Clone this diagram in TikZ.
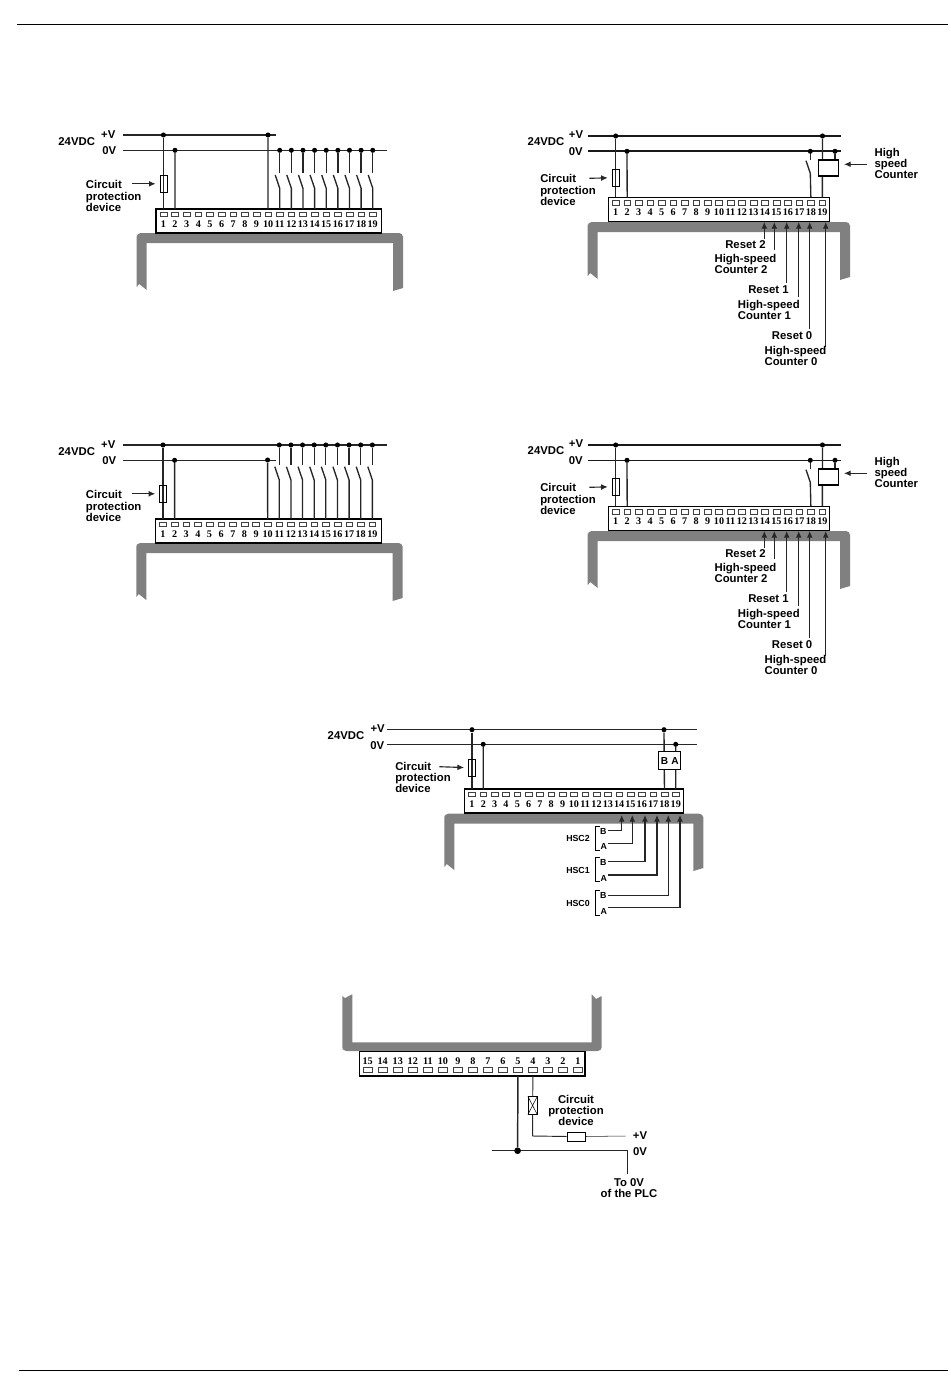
\documentclass[tikz,border=0pt]{standalone}
\usepackage{fontspec}
\setmainfont{Liberation Sans}
\newfontfamily\numfont{Liberation Serif}
\usepackage{tikz}
\usetikzlibrary{arrows.meta}

\tikzset{
    wire/.style={line width=1pt, black!85},
    arrowwire/.style={line width=0.85pt, black!85, -{Latex[length=5pt,width=4.4pt]}},
    fusearrow/.style={arrowwire, shorten >=3pt},
    junction/.style={circle, fill=black, inner sep=0pt, minimum size=3.8pt},
    term/.style={draw=black!75, line width=0.35pt, inner sep=0pt, minimum width=5pt, minimum height=3.4pt},
    termnum/.style={inner sep=0pt, text height=5pt, text depth=0pt, font=\numfont\bfseries\fontsize{7.6}{8}\selectfont},
    lbl/.style={inner sep=0pt, align=center, font=\bfseries\fontsize{8.5}{8.3}\selectfont},
    lblw/.style={lbl, anchor=west, align=left},
    small/.style={inner sep=0pt, font=\bfseries\fontsize{6.6}{7}\selectfont},
    fuse/.style={draw=black, line width=0.5pt, inner sep=0pt, minimum width=5.4pt, minimum height=13.2pt},
    ctbox/.style={draw=black, fill=white, line width=0.8pt, inner sep=0pt},
    housing/.style={fill=black!50, draw=none},
    stripframe/.style={draw=black, fill=white, line width=0.8pt}
}

% terminal strip: prefix, left, right, top, pitch, x of terminal 1
\newcommand{\plcstrip}[6]{
    \draw[stripframe] (#2,#4) rectangle (#3,#4+24);
    \foreach \i in {1,...,19} {
        \pgfmathsetmacro\tx{#6+(\i-1)*#5}
        \coordinate (#1w\i) at (\tx,#4);
        \node[term] (#1t\i) at (\tx,#4+5.3) {};
        \node[termnum] (#1n\i) at (\tx,#4+15) {\i};
    }
}

% grey housing: left, right, top, bottom
\newcommand{\plcbody}[4]{
    \fill[housing] (#1,#4-3) -- (#1+2.5,#4-6) -- (#1+10,#4) -- (#1+10,#3+10)
        -- (#2-10,#3+10) -- (#2-10,#4+1) -- (#2,#4-2) -- (#2,#3+3)
        [rounded corners=3] -- (#2,#3) -- (#1,#3) -- (#1,#3+5) [sharp corners] -- cycle;
}

\begin{document}
\begin{tikzpicture}[x=0.75pt, y=-0.75pt]
    \useasboundingbox (0,0) rectangle (950,1391);

    % ---------- page rules ----------
    \coordinate (ruleTl) at (17,24);
    \coordinate (ruleTr) at (948,24);
    \coordinate (ruleBl) at (19,1370.5);
    \coordinate (ruleBr) at (948,1370.5);
    \draw[line width=0.7pt] (ruleTl) -- (ruleTr);
    \draw[line width=0.7pt] (ruleBl) -- (ruleBr);

    % ---------- left panels: switches on terminals 11 to 19 ----------
    % name / dx / dy / y of switch rail / y of short rail / its width / switch top
    \foreach \pn/\dx/\dy/\ry/\ty/\lw/\sy in {A/0/0/150.3/135/1/173.3, C/-0.4/310/445/460/0.6/465} {
        \plcbody{136.7+\dx}{403+\dx}{233+\dy}{290+\dy}
        \plcstrip{\pn}{156+\dx}{381.7+\dx}{209+\dy}{11.63}{163.4+\dx}

        \coordinate (\pn rl) at (122.7,\ry);
        \coordinate (\pn rr) at (387,\ry);
        \coordinate (\pn sl) at (122.7,\ty);
        \coordinate (\pn sr) at (276,\ty);
        \draw[wire] (\pn rl) -- (\pn rr);
        \draw[line width=\lw pt, black!85] (\pn sl) -- (\pn sr);

        \node[junction] (\pn d1) at (163.4+\dx,135+\dy) {};
        \node[junction] (\pn d2) at (175+\dx,150.3+\dy) {};
        \node[junction] (\pn d10) at (268+\dx,\ty) {};
        \draw[wire] (\pn d1) -- (\pn w1);
        \draw[wire] (\pn d2) -- (\pn w2);
        \draw[wire] (\pn d10) -- (\pn w10);

        \foreach \i in {11,...,19} {
            \pgfmathsetmacro\sx{163.4+\dx+(\i-1)*11.63}
            \node[junction] (\pn d\i) at (\sx,\ry) {};
            \coordinate (\pn c\i) at (\sx,\sy);
            \coordinate (\pn h\i) at (\sx-4.5,\sy+1.7);
            \coordinate (\pn b\i) at (\sx,\sy+15);
            \draw[wire] (\pn d\i) -- (\pn c\i);
            \draw[wire] (\pn h\i) -- (\pn b\i) -- (\pn w\i);
        }

        \node[fuse] (\pn fuse) at (163.6+\dx,183.8+\dy) {};
        \coordinate (\pn fa) at (132+\dx,183.8+\dy);
        \draw[fusearrow] (\pn fa) -- (\pn fuse);

        \node[lbl] (\pn vdc) at (76.7,141.7+\dy) {24VDC};
        \node[lbl] (\pn pv) at (108.3,135+\dy) {+V};
        \node[lbl] (\pn zv) at (109.3,150.3+\dy) {0V};
        \node[lblw] (\pn cpd) at (85.7,196+\dy) {Circuit\\protection\\device};
    }

    % ---------- right panels: high-speed counter ----------
    \foreach \pn/\dy in {B/0, D/309} {
        \plcbody{587.7}{850}{222+\dy}{279+\dy}
        \plcstrip{\pn}{608.3}{829.3}{197.3+\dy}{11.48}{615.7}

        \coordinate (\pn pl) at (588.3,136+\dy);
        \coordinate (\pn pr) at (841,136+\dy);
        \coordinate (\pn zl) at (588.3,151.3+\dy);
        \coordinate (\pn zr) at (841,151.3+\dy);
        \draw[line width=1.2pt, black!90] (\pn pl) -- (\pn pr);
        \draw[line width=1.2pt, black!90] (\pn zl) -- (\pn zr);

        \node[junction] (\pn d1) at (615.7,136+\dy) {};
        \node[junction] (\pn d2) at (627,151.3+\dy) {};
        \node[junction] (\pn d18) at (810.3,151.3+\dy) {};
        \node[junction] (\pn d19) at (822.5,136+\dy) {};
        \node[junction] (\pn da) at (835,151.3+\dy) {};
        \draw[wire] (\pn d1) -- (\pn w1);
        \draw[wire] (\pn d2) -- (\pn w2);

        % switch on 18
        \coordinate (\pn c18) at (810.3,160+\dy);
        \coordinate (\pn h18) at (806,160.7+\dy);
        \coordinate (\pn b18) at (810.3,173.3+\dy);
        \draw[wire] (\pn d18) -- (\pn c18);
        \draw[wire] (\pn h18) -- (\pn b18) -- (\pn w18);

        % counter box
        \draw[wire] (\pn d19) -- (\pn w19);
        \draw[wire] (\pn da) -- (835,162+\dy);
        \node[ctbox, minimum width=14.7pt, minimum height=12pt] (\pn box) at (828.5,168+\dy) {};
        \coordinate (\pn ba) at (866.7,164.3+\dy);
        \draw[arrowwire] (\pn ba) -- (844,164.3+\dy);
        \node[lblw] (\pn hsc) at (874.3,163.7+\dy) {High\\speed\\Counter};

        \node[fuse] (\pn fuse) at (615.7,177.7+\dy) {};
        \coordinate (\pn fa) at (589.3,178.3+\dy);
        \draw[fusearrow] (\pn fa) -- (\pn fuse);

        % inputs from below
        \foreach \a/\x/\y in {14/764.3/239.3, 15/774.3/250, 16/786.7/282.7, 17/798.7/296.7, 18/809.7/329.3, 19/825.7/346.7} {
            \coordinate (\pn as\a) at (\x,\y+\dy);
            \coordinate (\pn at\a) at (\x,222+\dy);
            \draw[arrowwire] (\pn as\a) -- (\pn at\a);
        }

        \node[lblw] (\pn rs2) at (725,245+\dy) {Reset 2};
        \node[lblw] (\pn hs2) at (714.3,263.5+\dy) {High-speed\\Counter 2};
        \node[lblw] (\pn rs1) at (748,289.5+\dy) {Reset 1};
        \node[lblw] (\pn hs1) at (737.7,309.5+\dy) {High-speed\\Counter 1};
        \node[lblw] (\pn rs0) at (771.7,336+\dy) {Reset 0};
        \node[lblw] (\pn hs0) at (764.3,356.3+\dy) {High-speed\\Counter 0};

        \node[lbl] (\pn vdc) at (546,142+\dy) {24VDC};
        \node[lbl] (\pn pv) at (576,134.7+\dy) {+V};
        \node[lbl] (\pn zv) at (575.7,152+\dy) {0V};
        \node[lblw] (\pn cpd) at (540,190+\dy) {Circuit\\protection\\device};
    }

    % ---------- centre panel: HSC inputs ----------
    \plcbody{444.3}{703.3}{813.7}{870}
    \plcstrip{E}{464.3}{683.3}{789}{11.32}{472}

    \coordinate (Epl) at (386.7,729.7);
    \coordinate (Epr) at (696.7,729.7);
    \coordinate (Ezl) at (386.7,744.3);
    \coordinate (Ezr) at (696.7,744.3);
    \draw[wire] (Epl) -- (Epr);
    \draw[wire] (Ezl) -- (Ezr);

    \node[junction] (Ed1) at (472,729.7) {};
    \node[junction] (Ed2) at (483.2,744.3) {};
    \node[junction] (Ed18) at (664,729.7) {};
    \node[junction] (Ed19) at (675.7,744.3) {};
    \draw[wire] (Ed1) -- (Ew1);
    \draw[wire] (Ed2) -- (Ew2);
    \draw[wire] (Ed18) -- (Ew18);
    \draw[wire] (Ed19) -- (Ew19);
    \node[ctbox, minimum width=16.7pt, minimum height=13.7pt, font=\bfseries\fontsize{7.6}{8}\selectfont] (Ebox) at (669.8,760.8) {B\,\,A};

    \node[fuse] (Efuse) at (472,767.8) {};
    \coordinate (Efa) at (439.3,766.7);
    \draw[fusearrow] (Efa) -- (Efuse);

    \node[lbl] (Evdc) at (346,736) {24VDC};
    \node[lbl] (Epv) at (377.7,728.7) {+V};
    \node[lbl] (Ezv) at (377.3,745.3) {0V};
    \node[lblw] (Ecpd) at (395,777.7) {Circuit\\protection\\device};

    % name / bracket top / bottom / y of B / y of A / wire B / wire A / x of B / x of A / y of name
    \foreach \h/\yt/\yb/\ylb/\yla/\wb/\wa/\xb/\xa/\yn in {2/826.7/850/831.3/846/830.3/843.3/621.7/632.3/838.7, 1/857.7/881.7/862.7/878.3/861.3/875/645/657/870.7, 0/890/915/895.3/911/895.3/907.7/668.3/680/903} {
        \coordinate (Hct\h) at (600,\yt);
        \coordinate (Hlt\h) at (595.7,\yt);
        \coordinate (Hlb\h) at (595.7,\yb);
        \coordinate (Hcb\h) at (600,\yb);
        \draw[line width=0.5pt] (Hct\h) -- (Hlt\h) -- (Hlb\h) -- (Hcb\h);
        \node[small] (Hb\h) at (603.3,\ylb) {B};
        \node[small] (Ha\h) at (603.7,\yla) {A};
        \node[small, anchor=east] (Hn\h) at (590,\yn) {HSC\h};
        \coordinate (Hsb\h) at (608.3,\wb);
        \coordinate (Hsa\h) at (608.3,\wa);
        \coordinate (Htb\h) at (\xb,815);
        \coordinate (Hta\h) at (\xa,815);
        \draw[arrowwire] (Hsb\h) -| (Htb\h);
        \draw[arrowwire] (Hsa\h) -| (Hta\h);
    }

    % ---------- bottom panel: 15 terminals ----------
    \fill[housing] (342.3,996) -- (345,998) -- (352.3,994.3) -- (352.3,1042.3)
        -- (591.7,1042.3) -- (591.7,994.3) -- (596,999) -- (601.7,996) -- (601.7,1048)
        [rounded corners=3] -- (601.7,1051) -- (342.3,1051) -- (342.3,1047) [sharp corners] -- cycle;
    \draw[stripframe] (359.7,1051.7) rectangle (585,1076);
    \foreach \i in {1,...,15} {
        \pgfmathsetmacro\tx{578-(\i-1)*15.02}
        \coordinate (Fw\i) at (\tx,1076);
        \node[term, minimum width=7pt] (Ft\i) at (\tx,1069.6) {};
        \node[termnum] (Fn\i) at (\tx,1060.7) {\i};
    }

    \coordinate (Fzl) at (492.3,1150.7);
    \coordinate (Fzr) at (627.3,1150.7);
    \coordinate (Fze) at (627.3,1174.3);
    \draw[wire] (Fzl) -- (Fzr) -- (Fze);

    \node[junction, minimum size=5pt] (Fd5) at (517.6,1150.7) {};
    \draw[line width=1.1pt, black!85] (Fw5) -- (Fd5);

    \node[fuse, minimum width=6.6pt] (Fx) at (532.6,1105.5) {};
    \draw[line width=0.4pt] (Fx.north west) -- (Fx.south east);
    \draw[line width=0.4pt] (Fx.north east) -- (Fx.south west);
    \draw[line width=0.7pt, black!85] (Fw4) -- (Fx);
    \node[fuse, minimum width=13.5pt, minimum height=6.5pt, fill=white] (Fy) at (576,1136.6) {};
    \coordinate (Fpr) at (625.7,1136);
    \coordinate (Fpc) at (532.6,1136);
    \draw[line width=0.7pt, black!85] (Fx) -- (Fpc) -- (Fy);
    \draw[line width=0.4pt, black!85] (Fy) -- (Fpr);

    \node[lbl] (Fcpd) at (576,1110.7) {Circuit\\protection\\device};
    \node[lbl] (Fpv) at (640,1135.3) {+V};
    \node[lbl] (Fzv) at (640,1151.3) {0V};
    \node[lbl] (Fto) at (629,1187.7) {To 0V\\of the PLC};

\end{tikzpicture}
\end{document}
